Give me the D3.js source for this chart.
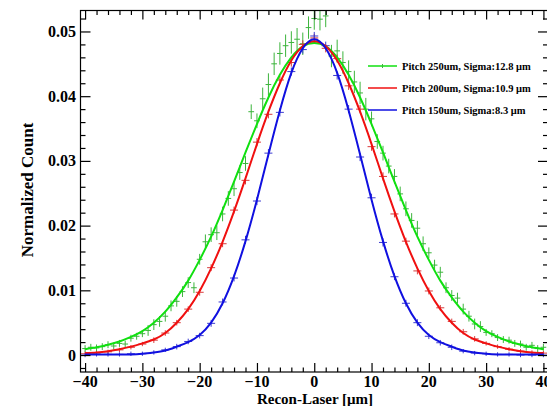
<!DOCTYPE html>
<html>
<head>
<meta charset="utf-8">
<script src="https://cdn.jsdelivr.net/npm/d3@7"></script>
<style>
body { margin: 0; background: #fff; }
svg { display: block; }
.lab { font-family: "Liberation Serif", "Times New Roman", serif; font-weight: bold; }
</style>
</head>
<body>
<svg width="547" height="406"></svg>
<script>

// fit curves, every 2 um
var fitX = [-40,-38,-36,-34,-32,-30,-28,-26,-24,-22,-20,-18,-16,-14,-12,-10,-8,-6,-4,-2,0,
            2,4,6,8,10,12,14,16,18,20,22,24,26,28,30,32,34,36,38,40];
var fitGreen = [0.0009,0.0012,0.0016,0.0021,0.0028,0.0037,0.0050,0.0067,0.0089,0.0115,0.0147,0.0183,0.0224,0.0268,0.0313,0.0357,0.0398,0.0433,0.0460,0.0477,0.0482,
                0.0477,0.0460,0.0433,0.0398,0.0357,0.0313,0.0268,0.0224,0.0183,0.0147,0.0115,0.0089,0.0067,0.0050,0.0037,0.0028,0.0021,0.0016,0.0012,0.0009];
var fitRed = [0.0003,0.0004,0.0006,0.0009,0.0013,0.0018,0.0024,0.0034,0.0050,0.0071,0.0099,0.0134,0.0175,0.0222,0.0273,0.0326,0.0376,0.0420,0.0455,0.0477,0.0485,
              0.0477,0.0455,0.0420,0.0376,0.0326,0.0273,0.0222,0.0175,0.0134,0.0099,0.0071,0.0050,0.0034,0.0024,0.0018,0.0013,0.0009,0.0006,0.0004,0.0003];
var fitBlue = [0.0001,0.0001,0.0001,0.0001,0.0001,0.0002,0.0004,0.0007,0.0013,0.0020,0.0031,0.0050,0.0080,0.0122,0.0176,0.0240,0.0310,0.0378,0.0436,0.0474,0.0488,
               0.0474,0.0436,0.0378,0.0310,0.0240,0.0176,0.0122,0.0080,0.0050,0.0031,0.0020,0.0013,0.0007,0.0004,0.0002,0.0001,0.0001,0.0001,0.0001,0.0001];

// data points (pitch 250um, 1 um bins)
var greenX = [-40,-39,-38,-37,-36,-35,-34,-33,-32,-31,-30,-29,-28,-27,-26,-25,-24,-23,-22,-21,-20,
              -19,-18,-17,-16,-15,-14,-13,-12,-11,-10,-9,-8,-7,-6,-5,-4,-3,-2,-1,0,
              1,2,3,4,5,6,7,8,9,10,11,12,13,14,15,16,17,18,19,20,
              21,22,23,24,25,26,27,28,29,30,31,32,33,34,35,36,37,38,39,40];
var greenY = [0.0010,0.0012,0.0011,0.0013,0.0016,0.0014,0.0018,0.0017,0.0026,0.0029,0.0033,0.0038,0.0047,0.0052,0.0060,0.0076,0.0083,0.0098,0.0112,0.0104,0.0148,
              0.0175,0.0186,0.0189,0.0218,0.0242,0.0257,0.0282,0.0296,0.0376,0.0362,0.0396,0.0418,0.0450,0.0466,0.0478,0.0483,0.0488,0.0481,0.0506,0.0520,
              0.0519,0.0524,0.0462,0.0470,0.0452,0.0438,0.0422,0.0405,0.0380,0.0365,0.0330,0.0312,0.0292,0.0276,0.0249,0.0226,0.0208,0.0196,0.0172,0.0158,
              0.0139,0.0128,0.0104,0.0092,0.0088,0.0071,0.0060,0.0048,0.0044,0.0035,0.0033,0.0027,0.0024,0.0023,0.0018,0.0017,0.0012,0.0015,0.0010,0.0012];
var greenErr = [0.0003,0.0003,0.0003,0.0003,0.0003,0.0003,0.0003,0.0003,0.0003,0.0003,0.0003,0.0006,0.0006,0.0006,0.0006,0.0006,0.0006,0.0006,0.0006,0.0006,0.0006,
                0.0009,0.0009,0.0009,0.0009,0.0009,0.0009,0.0009,0.0009,0.0009,0.0009,0.0015,0.0015,0.0015,0.0015,0.0015,0.0015,0.0015,0.0015,0.0015,0.0015,
                0.0015,0.0015,0.0015,0.0015,0.0015,0.0015,0.0015,0.0015,0.0015,0.0009,0.0009,0.0009,0.0009,0.0009,0.0009,0.0009,0.0009,0.0009,0.0009,0.0006,
                0.0006,0.0006,0.0006,0.0006,0.0006,0.0006,0.0006,0.0006,0.0006,0.0003,0.0003,0.0003,0.0003,0.0003,0.0003,0.0003,0.0003,0.0003,0.0003,0.0003];

// pitch 200um and 150um, 2 um bins
var redY = [0.0002,0.0003,0.0005,0.0008,0.0012,0.0017,0.0023,0.0034,0.0050,0.0071,0.0097,0.0135,0.0172,0.0224,0.0270,0.0329,0.0372,0.0425,0.0452,0.0480,0.0490,
            0.0474,0.0458,0.0416,0.0380,0.0322,0.0276,0.0218,0.0176,0.0130,0.0099,0.0073,0.0052,0.0036,0.0025,0.0018,0.0013,0.0009,0.0006,0.0004,0.0003];
var redErr = [0.0001,0.0001,0.0001,0.0001,0.0001,0.0001,0.0002,0.0002,0.0002,0.0002,0.0003,0.0003,0.0003,0.0003,0.0004,0.0004,0.0004,0.0004,0.0004,0.0004,0.0004,
              0.0004,0.0004,0.0004,0.0004,0.0004,0.0004,0.0003,0.0003,0.0003,0.0003,0.0002,0.0002,0.0002,0.0002,0.0001,0.0001,0.0001,0.0001,0.0001,0.0001];
var blueY = [0.0000,0.0001,0.0001,0.0001,0.0002,0.0002,0.0004,0.0008,0.0013,0.0021,0.0030,0.0049,0.0082,0.0119,0.0178,0.0238,0.0312,0.0375,0.0438,0.0472,0.0493,
             0.0478,0.0432,0.0380,0.0306,0.0243,0.0174,0.0121,0.0080,0.0050,0.0029,0.0019,0.0012,0.0006,0.0003,0.0002,0.0001,0.0001,0.0000,0.0000,0.0000];
var blueErr = [0.0001,0.0001,0.0001,0.0001,0.0001,0.0001,0.0001,0.0001,0.0002,0.0002,0.0002,0.0003,0.0003,0.0003,0.0004,0.0004,0.0004,0.0004,0.0004,0.0004,0.0004,
               0.0004,0.0004,0.0004,0.0004,0.0004,0.0004,0.0003,0.0003,0.0003,0.0002,0.0002,0.0002,0.0001,0.0001,0.0001,0.0001,0.0001,0.0001,0.0001,0.0001];

var xTicks = [-40,-30,-20,-10,0,10,20,30,40];
var xMinor = [-38,-36,-34,-32,-28,-26,-24,-22,-18,-16,-14,-12,-8,-6,-4,-2,2,4,6,8,12,14,16,18,22,24,26,28,32,34,36,38];
var yTicks = [0,0.01,0.02,0.03,0.04,0.05];
var yMinor = [-0.002,0.002,0.004,0.006,0.008,0.012,0.014,0.016,0.018,0.022,0.024,0.026,0.028,
              0.032,0.034,0.036,0.038,0.042,0.044,0.046,0.048,0.052];
var legendLabels = ["Pitch 250um, Sigma:12.8 \u03bcm", "Pitch 200um, Sigma:10.9 \u03bcm", "Pitch 150um, Sigma:8.3 \u03bcm"];
var colors = ["#10e010", "#f01010", "#1010e0"];
var barColors = ["#3cb43c", "#d83a3a", "#3a3ad0"];

var svg = d3.select("svg"),
    frame = {left: 80.5, right: 548, top: 10.5, bottom: 372};

var x = d3.scaleLinear().domain([-40.8, 40.8]).range([frame.left, frame.right]),
    y = d3.scaleLinear().domain([-0.00262, 0.05324]).range([frame.bottom, frame.top]);

svg.append("clipPath").attr("id", "clip")
  .append("rect")
    .attr("x", frame.left).attr("y", frame.top)
    .attr("width", frame.right - frame.left).attr("height", frame.bottom - frame.top);

var plot = svg.append("g").attr("clip-path", "url(#clip)");

// error bars
var series = [
  {xs: greenX, ys: greenY, es: greenErr, hw: 0.5, c: barColors[0]},
  {xs: fitX, ys: redY, es: redErr, hw: 0.7, c: barColors[1]},
  {xs: fitX, ys: blueY, es: blueErr, hw: 0.7, c: barColors[2]}
];
series.forEach(function(s) {
  var pts = s.xs.map(function(d, i) { return {x: d, y: s.ys[i], e: s.es[i]}; });
  var gp = plot.append("g").attr("stroke", s.c).attr("stroke-width", 1);
  gp.selectAll(".v").data(pts).enter().append("line")
      .attr("x1", function(d) { return x(d.x); })
      .attr("x2", function(d) { return x(d.x); })
      .attr("y1", function(d) { return y(d.y - d.e) + 1.5; })
      .attr("y2", function(d) { return y(d.y + d.e) - 1.5; });
  gp.selectAll(".h").data(pts).enter().append("line")
      .attr("x1", function(d) { return x(d.x - s.hw); })
      .attr("x2", function(d) { return x(d.x + s.hw); })
      .attr("y1", function(d) { return y(d.y); })
      .attr("y2", function(d) { return y(d.y); });
});

// fit curves
var line = d3.line()
    .x(function(d) { return x(d[0]); })
    .y(function(d) { return y(d[1]); })
    .curve(d3.curveNatural);

[fitGreen, fitRed, fitBlue].forEach(function(f, i) {
  plot.append("path")
      .datum(fitX.map(function(d, j) { return [d, f[j]]; }))
      .attr("fill", "none")
      .attr("stroke", colors[i])
      .attr("stroke-width", 2)
      .attr("d", line);
});

// frame and ticks (ROOT style, inward)
svg.append("rect")
    .attr("x", frame.left).attr("y", frame.top)
    .attr("width", frame.right - frame.left).attr("height", frame.bottom - frame.top)
    .attr("fill", "none").attr("stroke", "#000").attr("stroke-width", 1.2);

function ticks(axis, vals, size, tr) {
  var g = svg.append("g")
      .attr("transform", tr)
      .call(axis.tickValues(vals).tickSizeInner(size).tickSizeOuter(0).tickFormat(""));
  g.select(".domain").remove();
  g.selectAll("line").attr("stroke", "#000").attr("stroke-width", 1.2);
  return g;
}
ticks(d3.axisBottom(x), xTicks, -9, "translate(0," + frame.bottom + ")");
ticks(d3.axisBottom(x), xMinor, -4.5, "translate(0," + frame.bottom + ")");
ticks(d3.axisTop(x), xTicks, -9, "translate(0," + frame.top + ")");
ticks(d3.axisTop(x), xMinor, -4.5, "translate(0," + frame.top + ")");
ticks(d3.axisLeft(y), yTicks, -10, "translate(" + frame.left + ",0)");
ticks(d3.axisLeft(y), yMinor, -5, "translate(" + frame.left + ",0)");
ticks(d3.axisRight(y), yTicks, -10, "translate(" + frame.right + ",0)");
ticks(d3.axisRight(y), yMinor, -5, "translate(" + frame.right + ",0)");

// tick labels
svg.append("g").selectAll("text").data(xTicks).enter().append("text")
    .attr("class", "lab")
    .attr("x", function(d) { return x(d); })
    .attr("y", 387)
    .attr("text-anchor", "middle")
    .style("font-size", "16px")
    .text(function(d) { return d < 0 ? "\u2212" + Math.abs(d) : d; });

svg.append("g").selectAll("text").data(yTicks).enter().append("text")
    .attr("class", "lab")
    .attr("x", 76)
    .attr("y", function(d) { return y(d); })
    .attr("dy", "0.35em")
    .attr("text-anchor", "end")
    .style("font-size", "16px")
    .text(function(d) { return d === 0 ? "0" : d.toFixed(2); });

// axis titles
svg.append("text")
    .attr("class", "lab")
    .attr("x", 315).attr("y", 404)
    .attr("text-anchor", "middle")
    .style("font-size", "15px")
    .text("Recon-Laser [\u03bcm]");

svg.append("text")
    .attr("class", "lab")
    .attr("transform", "translate(33,190) rotate(-90)")
    .attr("text-anchor", "middle")
    .style("font-size", "17px")
    .text("Normalized Count");

// legend
var legY = [66, 88, 110];
var leg = svg.append("g");
legendLabels.forEach(function(t, i) {
  leg.append("line")
      .attr("x1", 368).attr("x2", 397)
      .attr("y1", legY[i]).attr("y2", legY[i])
      .attr("stroke", colors[i]).attr("stroke-width", 1.5);
  leg.append("text")
      .attr("class", "lab")
      .attr("x", 402).attr("y", legY[i])
      .attr("dy", "0.35em")
      .style("font-size", "10.5px")
      .text(t);
});
leg.append("line")
    .attr("x1", 382.5).attr("x2", 382.5)
    .attr("y1", legY[0] - 2).attr("y2", legY[0] + 2)
    .attr("stroke", barColors[0]);

</script>
</body>
</html>
